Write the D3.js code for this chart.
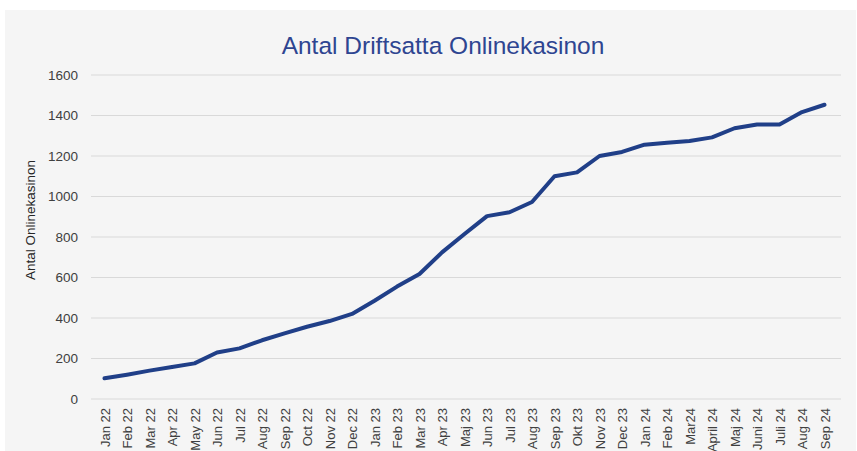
<!DOCTYPE html>
<html>
<head>
<meta charset="utf-8">
<script src="https://cdn.jsdelivr.net/npm/d3@7"></script>
<style>
  body { margin: 0; background: #fff; }
  text { font-family: "Liberation Sans", Arial, sans-serif; }
</style>
</head>
<body>
<div id="chart"></div>
<script>
// months on the x axis
var months = ["Jan 22", "Feb 22", "Mar 22", "Apr 22", "May 22", "Jun 22", "Jul 22", "Aug 22",
  "Sep 22", "Oct 22", "Nov 22", "Dec 22", "Jan 23", "Feb 23", "Mar 23", "Apr 23", "Maj 23",
  "Jun 23", "Jul 23", "Aug 23", "Sep 23", "Okt 23", "Nov 23", "Dec 23", "Jan 24", "Feb 24",
  "Mar24", "April 24", "Maj 24", "Juni 24", "Juli 24", "Aug 24", "Sep 24"];

// number of licensed online casinos
var casinos = [102, 120, 140, 158, 176, 230, 250, 290, 324, 357, 385, 420, 485, 555, 617,
  724, 815, 903, 922, 973, 1100, 1119, 1200, 1220, 1256, 1266, 1274, 1292, 1337, 1356,
  1356, 1417, 1453];

var yTicks = [0, 200, 400, 600, 800, 1000, 1200, 1400, 1600];

var svgWidth = 857;
var svgHeight = 451;

var svg = d3.select("#chart")
  .append("svg")
  .attr("width", svgWidth)
  .attr("height", svgHeight);

// chart area background
svg.append("rect")
  .attr("x", 5)
  .attr("y", 10)
  .attr("width", 851)
  .attr("height", 441)
  .attr("fill", "#f5f5f5");

var gridLeft = 91, gridRight = 841;

var x = d3.scalePoint()
  .domain(months)
  .range([104.5, 824.5]);

var y = d3.scaleLinear()
  .domain([0, 1600])
  .range([399, 75]);

// gridlines
svg.append("g")
  .selectAll("line")
  .data(yTicks)
  .enter()
  .append("line")
  .attr("x1", gridLeft)
  .attr("x2", gridRight)
  .attr("y1", d => y(d))
  .attr("y2", d => y(d))
  .attr("stroke", "#d9d9d9")
  .attr("stroke-width", 1);

// y axis labels
var leftAxis = d3.axisLeft(y).tickValues(yTicks).tickFormat(d3.format("d")).tickSize(0).tickPadding(0);
var yAxis = svg.append("g")
  .attr("transform", "translate(78,0)")
  .call(leftAxis);
yAxis.select(".domain").remove();
yAxis.selectAll("text")
  .attr("font-size", 13.5)
  .attr("fill", "#404040")
  .style("font-family", "Liberation Sans, Arial, sans-serif");

// x axis labels
var bottomAxis = d3.axisBottom(x).tickSize(0).tickPadding(0);
var xAxis = svg.append("g")
  .attr("transform", "translate(0,408)")
  .call(bottomAxis);
xAxis.select(".domain").remove();
xAxis.selectAll("text")
  .attr("font-size", 13)
  .attr("fill", "#404040")
  .style("font-family", "Liberation Sans, Arial, sans-serif")
  .attr("text-anchor", "end")
  .attr("dy", null)
  .attr("y", 0)
  .attr("transform", "rotate(-90) translate(0,4.5)");

// series line
var line = d3.line()
  .x((d, i) => x(months[i]))
  .y(d => y(d));

svg.append("path")
  .datum(casinos)
  .attr("d", line)
  .attr("fill", "none")
  .attr("stroke", "#203f88")
  .attr("stroke-width", 4)
  .attr("stroke-linejoin", "round")
  .attr("stroke-linecap", "round");

// title
svg.append("text")
  .attr("x", 443)
  .attr("y", 54)
  .attr("text-anchor", "middle")
  .attr("font-size", 24.5)
  .attr("fill", "#2e4591")
  .text("Antal Driftsatta Onlinekasinon");

// y axis title
svg.append("text")
  .attr("transform", "translate(35,220) rotate(-90)")
  .attr("text-anchor", "middle")
  .attr("font-size", 13.5)
  .attr("fill", "#262626")
  .text("Antal Onlinekasinon");
</script>
</body>
</html>
